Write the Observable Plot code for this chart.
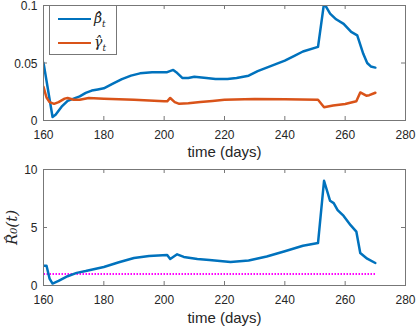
<!DOCTYPE html>
<html>
<head>
<meta charset="utf-8">
<script src="https://cdn.jsdelivr.net/npm/d3@7"></script>
<script src="https://cdn.jsdelivr.net/npm/@observablehq/plot@0.6"></script>
<style>
  body { margin: 0; background: #fff; font-family: "Liberation Sans", Arial, sans-serif; }
  #wrap { position: relative; width: 416px; height: 327px; }
  #wrap svg { display: block; overflow: visible; }
  .legend { position: absolute; left: 49px; top: 5px; width: 68px; height: 50px; border: 1px solid #777; background: #fff; box-sizing: border-box; }
  .legend .row { position: absolute; left: 8px; height: 20px; display: flex; align-items: center; }
  .legend .sw { width: 33px; height: 2.5px; margin-right: 3px; }
  .legend .lab { font-family: "DejaVu Serif", "Liberation Serif", serif; font-style: italic; font-size: 14px; color: #222; }
  .legend sub { font-size: 9px; }
</style>
</head>
<body>
<div id="wrap"></div>
<script>
// ---- data ----
const betaT = [160, 163, 164, 166, 168, 170, 172, 174, 176, 178, 180, 183, 186, 189, 192, 196, 201, 203, 204, 206, 208, 210, 214, 217, 221, 224, 228, 231, 234, 237, 240, 243, 246, 251, 253, 255, 257, 259.5, 262, 264, 266, 267.3, 268.5, 270];
const betaV = [0.0503, 0.003, 0.005, 0.012, 0.017, 0.019, 0.021, 0.024, 0.026, 0.027, 0.028, 0.032, 0.036, 0.039, 0.041, 0.042, 0.042, 0.044, 0.042, 0.037, 0.037, 0.038, 0.037, 0.036, 0.036, 0.037, 0.039, 0.043, 0.046, 0.049, 0.052, 0.056, 0.060, 0.064, 0.102, 0.093, 0.088, 0.084, 0.077, 0.074, 0.058, 0.050, 0.047, 0.046];

const gammaT = [160, 161, 162, 163.5, 165, 167, 168, 170, 172, 175, 180, 190, 200, 201, 202, 203.5, 205, 208, 212, 216, 220, 230, 240, 251, 253, 256, 260, 263.7, 265, 267, 268, 270];
const gammaV = [0.0293, 0.020, 0.016, 0.0145, 0.016, 0.019, 0.0196, 0.018, 0.018, 0.0195, 0.019, 0.018, 0.0167, 0.0167, 0.0196, 0.016, 0.0145, 0.015, 0.016, 0.017, 0.018, 0.0187, 0.0185, 0.018, 0.0115, 0.013, 0.0144, 0.0167, 0.0244, 0.0216, 0.022, 0.0241];

const r0T = [160, 161, 162, 163, 165, 168, 171, 174, 177, 180, 185, 190, 195, 201, 202, 204.3, 206.5, 211, 215, 222, 228, 234, 240, 246, 251, 253, 255, 256.2, 257.5, 259.5, 261.8, 263.7, 265, 267.3, 270];
const r0V = [1.71, 1.71, 0.6, 0.17, 0.4, 0.8, 1.09, 1.25, 1.43, 1.6, 2.0, 2.37, 2.55, 2.63, 2.29, 2.69, 2.46, 2.29, 2.2, 2.03, 2.15, 2.5, 2.95, 3.43, 3.66, 9.03, 7.3, 7.1, 6.5, 6.0, 5.2, 4.65, 2.8, 2.31, 1.94];

const thresholdT = [160, 270];
const thresholdV = [1, 1];

const xTicks = [160, 180, 200, 220, 240, 260, 280];
const yTicksTop = [0, 0.05, 0.1];
const yTickLabelsTop = ["0", "0.05", "0.1"];
const yTicksBottom = [0, 5, 10];

const legendLabels = ["β̂", "γ̂"];
const xLabel = "time (days)";
const yLabelBottom = "R̂₀(t)";

const BLUE = "#0072BD", ORANGE = "#D95319", MAGENTA = "#FF00FF", FRAME = "#777", INK = "#262626";

const betaData = betaT.map((t, i) => ({t, v: betaV[i]}));
const gammaData = gammaT.map((t, i) => ({t, v: gammaV[i]}));
const r0Data = r0T.map((t, i) => ({t, v: r0V[i]}));
const thrData = thresholdT.map((t, i) => ({t, v: thresholdV[i]}));

function boxTicks(yTicks, frameH, frameW) {
  const L = 4;
  return [
    Plot.tickX(xTicks, {x: d => d, stroke: FRAME, insetTop: frameH - L}),
    Plot.tickX(xTicks, {x: d => d, stroke: FRAME, insetBottom: frameH - L}),
    Plot.tickY(yTicks, {y: d => d, stroke: FRAME, insetRight: frameW - L}),
    Plot.tickY(yTicks, {y: d => d, stroke: FRAME, insetLeft: frameW - L})
  ];
}

const W = 416, ML = 43, MR = 11;
const frameW = W - ML - MR;
const STYLE = {fontFamily: "'Liberation Sans', Arial, sans-serif", fontSize: "12px", color: INK, background: "#fff", overflow: "visible"};

// ---- top panel ----
const topH = 164, topMT = 5, topMB = 44;
const topPlot = Plot.plot({
  width: W, height: topH,
  marginTop: topMT, marginBottom: topMB, marginLeft: ML, marginRight: MR,
  style: STYLE,
  x: {domain: [160, 280]},
  y: {domain: [0, 0.1]},
  marks: [
    Plot.line(betaData, {x: "t", y: "v", stroke: BLUE, strokeWidth: 2.5, clip: true}),
    Plot.line(gammaData, {x: "t", y: "v", stroke: ORANGE, strokeWidth: 2.5, clip: true}),
    Plot.frame({stroke: FRAME}),
    ...boxTicks(yTicksTop, topH - topMT - topMB, frameW),
    Plot.axisX({ticks: xTicks, tickSize: 0, tickPadding: 9.5, tickFormat: d => String(d), label: null, fontSize: 12}),
    Plot.axisY({ticks: yTicksTop, tickSize: 0, tickPadding: 6, dy: 1, tickFormat: d => yTickLabelsTop[yTicksTop.indexOf(d)], label: null, fontSize: 12}),
    Plot.text([xLabel], {frameAnchor: "bottom", lineAnchor: "middle", dy: 32, fontSize: 15, fill: INK})
  ]
});

// ---- bottom panel ----
const botH = 163, botMT = 5, botMB = 42;
const bottomPlot = Plot.plot({
  width: W, height: botH,
  marginTop: botMT, marginBottom: botMB, marginLeft: ML, marginRight: MR,
  style: STYLE,
  x: {domain: [160, 280]},
  y: {domain: [0, 10]},
  marks: [
    Plot.line(thrData, {x: "t", y: "v", stroke: MAGENTA, strokeWidth: 2, strokeDasharray: "1.5,1.5", strokeLinecap: "butt"}),
    Plot.line(r0Data, {x: "t", y: "v", stroke: BLUE, strokeWidth: 2.5, clip: true}),
    Plot.frame({stroke: FRAME}),
    ...boxTicks(yTicksBottom, botH - botMT - botMB, frameW),
    Plot.axisX({ticks: xTicks, tickSize: 0, tickPadding: 9.5, tickFormat: d => String(d), label: null, fontSize: 12}),
    Plot.axisY({ticks: yTicksBottom, tickSize: 0, tickPadding: 6, dy: 1, tickFormat: d => String(d), label: null, fontSize: 12}),
    Plot.text([xLabel], {frameAnchor: "bottom", lineAnchor: "middle", dy: 33, fontSize: 15, fill: INK}),
    Plot.text([yLabelBottom], {frameAnchor: "left", textAnchor: "middle", lineAnchor: "middle", dx: -31, rotate: -90, fontSize: 15, fontStyle: "italic", fontFamily: "'DejaVu Serif', 'Liberation Serif', serif", fill: INK})
  ]
});

const wrap = document.getElementById("wrap");
wrap.appendChild(topPlot);
wrap.appendChild(bottomPlot);

// legend
const legend = document.createElement("div");
legend.className = "legend";
const colors = [BLUE, ORANGE];
legendLabels.forEach((lab, i) => {
  const row = document.createElement("div");
  row.className = "row";
  row.style.top = (3 + i * 24) + "px";
  const sw = document.createElement("div");
  sw.className = "sw";
  sw.style.background = colors[i];
  const tx = document.createElement("span");
  tx.className = "lab";
  tx.innerHTML = lab + "<sub>t</sub>";
  row.appendChild(sw);
  row.appendChild(tx);
  legend.appendChild(row);
});
wrap.appendChild(legend);
</script>
</body>
</html>
